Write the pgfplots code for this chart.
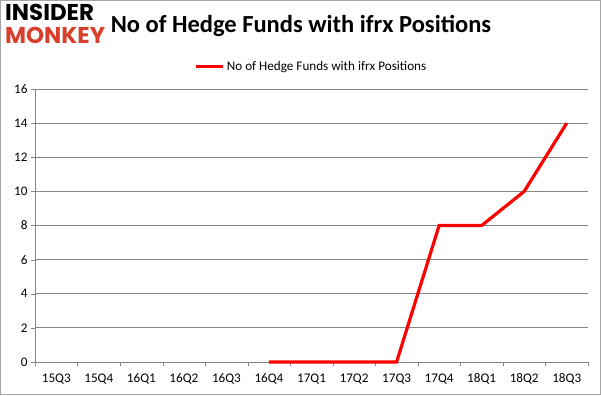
\documentclass[border=0pt]{standalone}
\usepackage{pgfplots}
\pgfplotsset{compat=1.18}
\usepackage{fontspec}
\setmainfont{Carlito}
\newfontfamily\logofont{Poppins}
\definecolor{gridgray}{RGB}{134,134,134}
\definecolor{monkeyred}{RGB}{214,64,44}
\newcommand\tlfont{\fontsize{13.2}{14}\selectfont}
\begin{document}
\begin{tikzpicture}[x=1bp,y=1bp]
\draw[gray!70,line width=1bp] (0.5,0.5) rectangle (600.5,394.5);
\node[anchor=north west,inner sep=0pt,font=\logofont\bfseries\fontsize{23}{23}\selectfont] at (5,391) {INSIDER};
\node[anchor=north west,inner sep=0pt,font=\logofont\bfseries\fontsize{23}{23}\selectfont,text=monkeyred] at (5,368) {MONKEY};
\node[font=\bfseries\fontsize{24.6}{25}\selectfont] at (301,369) {No of Hedge Funds with ifrx Positions};
\begin{axis}[
  at={(35bp,33bp)}, anchor=south west,
  scale only axis, width=553bp, height=273bp,
  xmin=-0.5, xmax=12.5, ymin=0, ymax=16,
  xtick={0,...,12},
  xticklabels={15Q3,15Q4,16Q1,16Q2,16Q3,16Q4,17Q1,17Q2,17Q3,17Q4,18Q1,18Q2,18Q3},
  major x tick style={draw=none},
  minor xtick={-0.5,0.5,...,12.5},
  minor x tick style={draw=gridgray},
  ytick={0,2,...,16},
  ymajorgrids, grid style={gridgray, line width=0.8bp},
  axis line style={gridgray, line width=0.8bp},
  axis x line*=bottom, axis y line*=left,
  tick align=outside,
  major tick length=4bp, minor tick length=4bp,
  y tick style={gridgray},
  xticklabel style={font=\tlfont, text=black, yshift=-4bp},
  yticklabel style={font=\tlfont, text=black},
  /pgf/number format/assume math mode=true,
  legend style={at={(0.5,1.0)}, anchor=south, yshift=13bp, draw=none, font=\fontsize{13.2}{14}\selectfont, legend columns=1},
  legend image code/.code={\draw[#1] (0bp,0bp) -- (27bp,0bp);},
  clip=false,
]
\addplot[red, line width=3.2bp] coordinates {(5,0) (6,0) (7,0) (8,0) (9,8) (10,8) (11,10) (12,14)};
\addlegendentry{No of Hedge Funds with ifrx Positions}
\end{axis}
\end{tikzpicture}
\end{document}
